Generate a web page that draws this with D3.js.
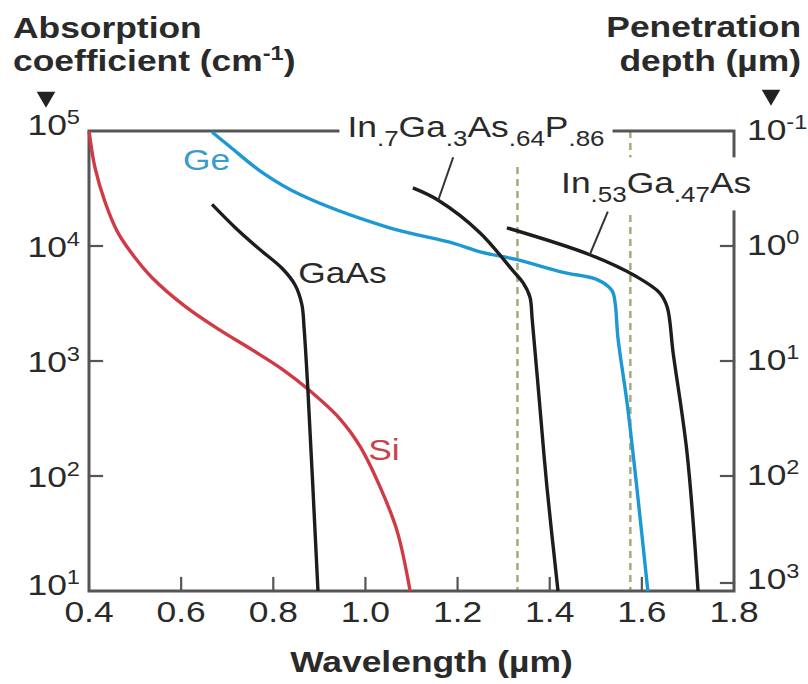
<!DOCTYPE html>
<html>
<head>
<meta charset="utf-8">
<script src="https://cdn.jsdelivr.net/npm/d3@7"></script>
<style>
  body { margin: 0; background: #fff; }
  svg { display: block; }
  text { font-family: "Liberation Sans", Arial, Helvetica, sans-serif; }
</style>
</head>
<body>
<svg id="chart" width="808" height="684"></svg>
<script>
// ---- data -------------------------------------------------------------
const wavelengthTicks = [0.4, 0.6, 0.8, 1.0, 1.2, 1.4, 1.6, 1.8];
const absorptionTicks = [1e1, 1e2, 1e3, 1e4, 1e5];
const depthTicks = [1e-1, 1e0, 1e1, 1e2, 1e3];

// [wavelength (µm), absorption coefficient (cm^-1)]
const siCurve = [
  [0.400, 1.0e5], [0.413, 4.8e4], [0.435, 2.4e4], [0.463, 1.3e4],
  [0.500, 7.9e3], [0.537, 5.3e3], [0.608, 3.0e3], [0.680, 1.9e3],
  [0.754, 1.25e3], [0.819, 850], [0.875, 570], [0.945, 313],
  [0.988, 182], [1.032, 80], [1.069, 33], [1.097, 10]
];
const gaAsCurve = [
  [0.667, 2.3e4], [0.717, 1.45e4], [0.767, 9.6e3], [0.819, 6.4e3],
  [0.847, 4.6e3], [0.862, 3.1e3], [0.867, 1.9e3], [0.875, 570],
  [0.897, 10]
];
const geCurve = [
  [0.667, 9.8e4], [0.706, 7.3e4], [0.778, 4.3e4], [0.858, 2.8e4],
  [1.047, 1.46e4], [1.190, 1.06e4], [1.249, 8.9e3], [1.329, 7.6e3],
  [1.429, 5.9e3], [1.503, 5.1e3], [1.535, 4.1e3], [1.542, 3.2e3],
  [1.548, 1.6e3], [1.568, 430], [1.589, 80], [1.613, 10]
];
const inGaAsPCurve = [
  [1.103, 3.2e4], [1.158, 2.5e4], [1.249, 1.3e4], [1.320, 6.1e3],
  [1.342, 4.8e3], [1.357, 3.6e3], [1.362, 2.3e3], [1.375, 590],
  [1.394, 80], [1.418, 10]
];
const inGaAsCurve = [
  [1.307, 1.44e4], [1.487, 8.4e3], [1.589, 5.4e3], [1.639, 3.9e3],
  [1.655, 2.95e3], [1.668, 1.17e3], [1.698, 160], [1.722, 10]
];
// fibre-window reference wavelengths (µm)
const markerWavelengths = [1.33, 1.575];

// ---- layout -----------------------------------------------------------
const svg = d3.select("#chart");
const SX = 1.18;              // horizontal stretch of the lettering
const FONT = 30;
const AXIS = "#555";
const INK = "#1d1d1d";
const RED = "#d03a44";
const BLUE = "#1c98d4";

const x = d3.scaleLinear().domain([0.4, 1.8]).range([89, 734]);
const y = d3.scaleLog().domain([1e1, 1e5]).range([591, 131]);
const yDepth = d3.scaleLog().domain([1e-1, 1e3]).range([131, 591]);

const [x0, x1] = x.range();
const [yBot, yTop] = y.range();

// text helper: positioned with a transform so glyphs can be stretched
function label(parent, px, py, opts = {}) {
  return parent.append("text")
    .attr("transform", `translate(${px},${py}) scale(${SX},1)`)
    .attr("font-size", opts.size || FONT)
    .attr("font-weight", opts.bold ? "bold" : "normal")
    .attr("text-anchor", opts.anchor || "start")
    .attr("fill", opts.fill || "#2a2a2a");
}
// append runs of [text, shift] where shift is "sup", "sub" or null
function runs(t, parts, baseSize) {
  let offset = 0;
  parts.forEach(([s, kind]) => {
    let target = 0, size = baseSize;
    if (kind === "sup") { target = -Math.round(baseSize * 0.37); size = Math.round(baseSize * 0.68); }
    if (kind === "sub") { target = Math.round(baseSize * 0.3); size = Math.round(baseSize * 0.74); }
    t.append("tspan").attr("dy", target - offset).attr("font-size", size).text(s);
    offset = target;
  });
  return t;
}

// ---- reference wavelengths (dashed) -----------------------------------
svg.append("g").selectAll("line").data(markerWavelengths).join("line")
  .attr("x1", d => x(d)).attr("x2", d => x(d))
  .attr("y1", yTop).attr("y2", yBot)
  .attr("stroke", "#aca77c").attr("stroke-width", 2.5)
  .attr("stroke-dasharray", "7,5");

// ---- frame ------------------------------------------------------------
const frame = svg.append("g").attr("stroke", AXIS).attr("stroke-width", 3)
  .attr("fill", "none").attr("stroke-linecap", "square");
frame.append("path").attr("d", `M${x0},${yTop}V${yBot}H${x1}V${yTop}H${x0}`);

// ticks (drawn inward)
const TL = 13;
frame.append("g").selectAll("line").data(wavelengthTicks.slice(1, -1)).join("line")
  .attr("x1", d => x(d)).attr("x2", d => x(d))
  .attr("y1", yBot).attr("y2", yBot - TL).attr("stroke-width", 2.2);
frame.append("g").selectAll("line").data(absorptionTicks.slice(1, -1)).join("line")
  .attr("x1", x0).attr("x2", x0 + TL)
  .attr("y1", d => y(d)).attr("y2", d => y(d)).attr("stroke-width", 2.2);
// the lowest depth tick sits just above the corner so its label clears the x labels
const depthTickY = d => Math.min(yDepth(d), yBot - 8);
frame.append("g").selectAll("line").data(depthTicks.slice(1)).join("line")
  .attr("x1", x1).attr("x2", x1 - TL)
  .attr("y1", depthTickY).attr("y2", depthTickY).attr("stroke-width", 2.2);

// ---- curves -----------------------------------------------------------
const line = d3.line()
  .x(d => x(d[0])).y(d => y(d[1]))
  .curve(d3.curveCatmullRom.alpha(0.5));
const series = [
  { data: siCurve, color: RED },
  { data: gaAsCurve, color: INK },
  { data: geCurve, color: BLUE },
  { data: inGaAsPCurve, color: INK },
  { data: inGaAsCurve, color: INK }
];
svg.append("g").selectAll("path").data(series).join("path")
  .attr("d", d => line(d.data))
  .attr("fill", "none")
  .attr("stroke", d => d.color)
  .attr("stroke-width", 3.4)
  .attr("stroke-linejoin", "round")
  .attr("stroke-linecap", "butt");

// ---- tick labels ------------------------------------------------------
const tickLab = svg.append("g");
wavelengthTicks.forEach(v => {
  label(tickLab, x(v), yBot + 31, { anchor: "middle" }).text(v.toFixed(1));
});
absorptionTicks.forEach((v, i) => {
  const exp = Math.round(Math.log10(v));
  const edge = (i === 0 || i === absorptionTicks.length - 1) ? -7 : 0;
  runs(label(tickLab, x0 - 9, y(v) + 11 + edge, { anchor: "end" }),
       [["10", null], [String(exp), "sup"]], FONT);
});
depthTicks.forEach(v => {
  const exp = Math.round(Math.log10(v));
  runs(label(tickLab, x1 + 13, depthTickY(v) + 9 - (v === 1e3 ? 3 : 0)),
       [["10", null], [String(exp), "sup"]], FONT);
});

// ---- axis titles ------------------------------------------------------
const titles = svg.append("g");
label(titles, 13, 38, { bold: true }).text("Absorption");
runs(label(titles, 13, 71, { bold: true }),
     [["coefficient (cm", null], ["-1", "sup"], [")", null]], FONT);
label(titles, 801, 37, { bold: true, anchor: "end" }).text("Penetration");
label(titles, 801, 71, { bold: true, anchor: "end" }).text("depth (µm)");
label(titles, (x0 + x1) / 2 + 20, 672, { bold: true, anchor: "middle" }).text("Wavelength (µm)");

const tri = d3.symbol().type(d3.symbolTriangle).size(150);
titles.append("path").attr("d", tri).attr("fill", "#222")
  .attr("transform", "translate(46,97) rotate(180)");
titles.append("path").attr("d", tri).attr("fill", "#222")
  .attr("transform", "translate(771,95) rotate(180)");

// ---- curve labels -----------------------------------------------------
const notes = svg.append("g");
label(notes, x(0.604), y(4.6e4), { fill: "#3a9ccc" }).text("Ge");
label(notes, x(0.854), y(4.8e3), { fill: "#2a2a2a" }).text("GaAs");
label(notes, x(1.006), y(138), { fill: "#c8434c" }).text("Si");

// compound labels sit on a white patch that breaks the frame and dashes
function compound(px, py, parts, pad) {
  const g = notes.append("g");
  const t = runs(label(g, px, py, { anchor: "middle" }), parts, FONT);
  const b = g.node().getBBox();
  g.insert("rect", "text")
    .attr("x", b.x - pad[3]).attr("y", b.y - pad[0])
    .attr("width", b.width + pad[1] + pad[3]).attr("height", b.height + pad[0] + pad[2])
    .attr("fill", "#fff");
  return t;
}
compound(x(1.240), y(8.9e4),
  [["In", null], [".7", "sub"], ["Ga", null], [".3", "sub"],
   ["As", null], [".64", "sub"], ["P", null], [".86", "sub"]], [4, 8, 12, 8]);
compound(x(1.631), y(2.9e4),
  [["In", null], [".53", "sub"], ["Ga", null], [".47", "sub"], ["As", null]], [8, 4, 4, 4]);

// leader lines from labels to their curves
const leaders = [
  { at: inGaAsPCurve[1], dx: 15, dy: -43 },
  { at: inGaAsCurve[1], dx: 18, dy: -43 }
];
notes.selectAll("line.leader").data(leaders).join("line")
  .attr("class", "leader")
  .attr("x1", d => x(d.at[0])).attr("y1", d => y(d.at[1]))
  .attr("x2", d => x(d.at[0]) + d.dx).attr("y2", d => y(d.at[1]) + d.dy)
  .attr("stroke", "#333").attr("stroke-width", 2);
</script>
</body>
</html>
